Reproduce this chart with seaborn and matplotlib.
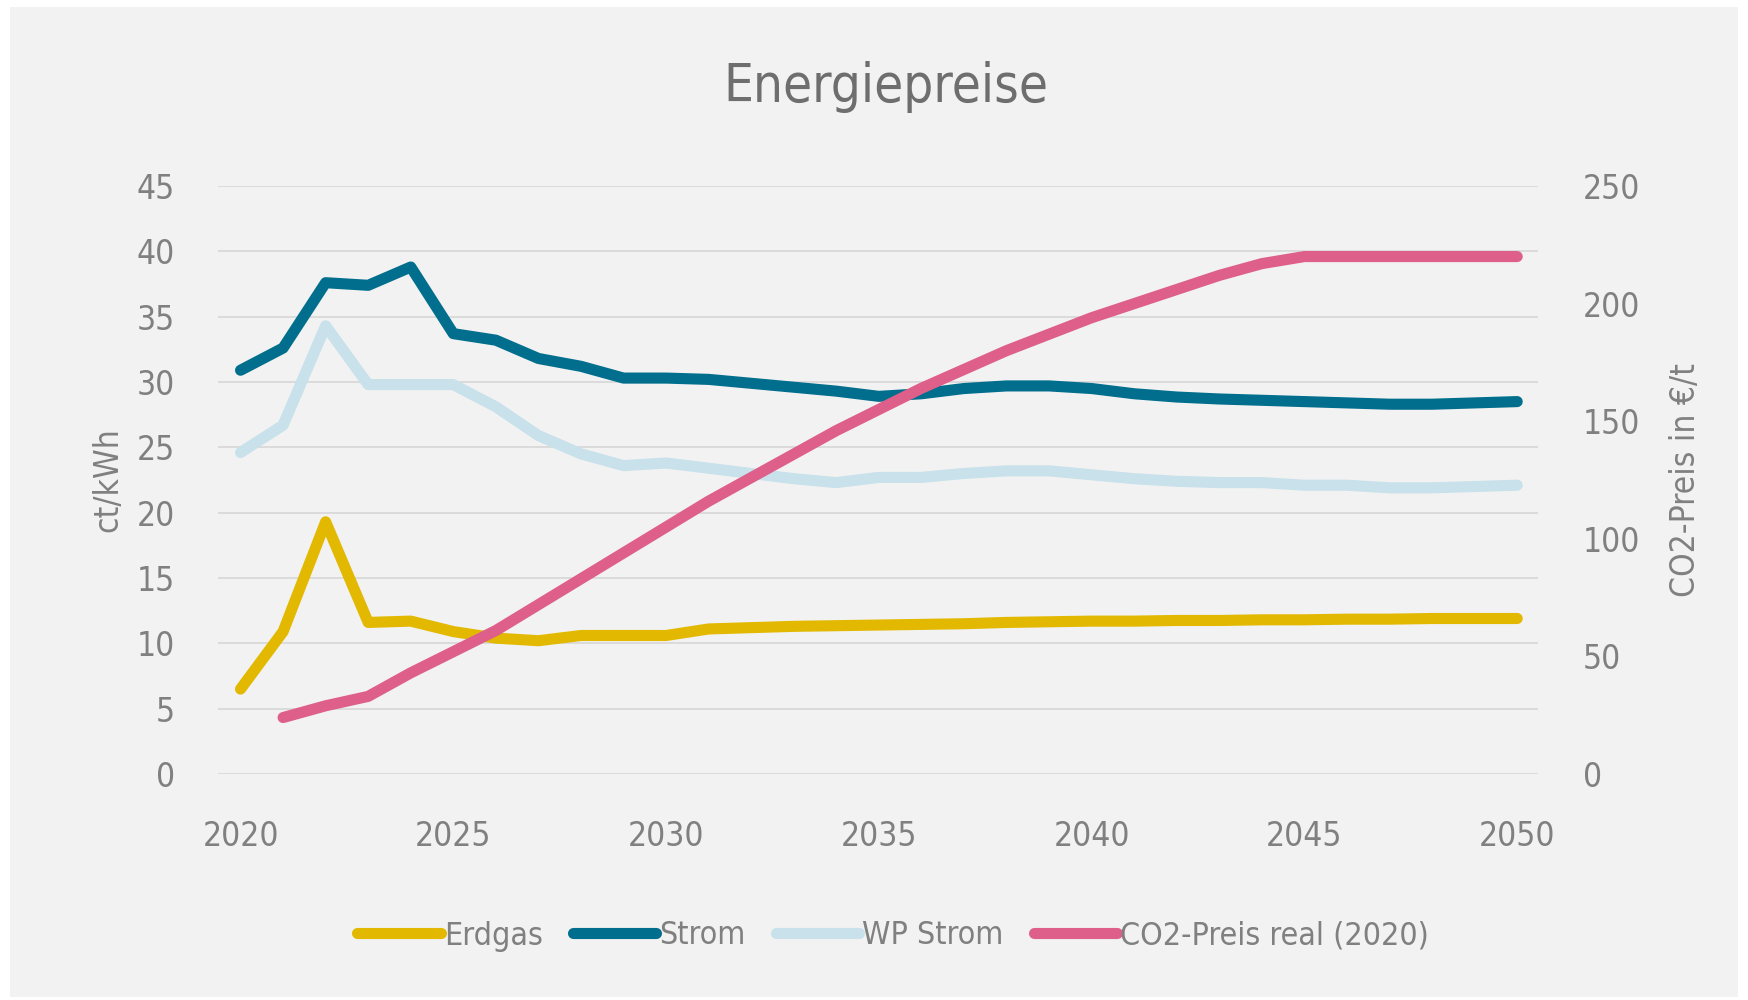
import pandas as pd
import seaborn as sns
import matplotlib.pyplot as plt
from matplotlib.lines import Line2D
from matplotlib.patches import Rectangle

# Werte
years = list(range(2020, 2051))
erdgas = [6.5, 10.9, 19.3, 11.6, 11.7, 10.9, 10.4, 10.2, 10.6, 10.6, 10.6,
          11.1, 11.2, 11.3, 11.35, 11.4, 11.45, 11.5, 11.6, 11.65, 11.7,
          11.7, 11.75, 11.75, 11.8, 11.8, 11.85, 11.85, 11.9, 11.9, 11.9]
strom = [30.9, 32.6, 37.6, 37.4, 38.8, 33.7, 33.2, 31.8, 31.2, 30.3, 30.3,
         30.2, 29.9, 29.6, 29.3, 28.9, 29.1, 29.5, 29.7, 29.7, 29.5,
         29.1, 28.85, 28.7, 28.6, 28.5, 28.4, 28.3, 28.3, 28.4, 28.5]
wp_strom = [24.6, 26.7, 34.3, 29.8, 29.8, 29.8, 28.1, 25.9, 24.5, 23.6, 23.8,
            23.4, 23.0, 22.6, 22.3, 22.7, 22.7, 23.0, 23.2, 23.2, 22.9,
            22.6, 22.4, 22.3, 22.3, 22.1, 22.1, 21.9, 21.9, 22.0, 22.1]
co2_years = years[1:]
co2_preis = [24, 29, 33, 43, 52, 61, 72, 83, 94, 105,
             116, 126, 136, 146, 155, 164, 172, 180, 187, 194,
             200, 206, 212, 217, 220, 220, 220, 220, 220, 220]

serien = ['Erdgas', 'Strom', 'WP Strom']
farben = {'Erdgas': '#E2B900', 'Strom': '#006E8C', 'WP Strom': '#C8E1EA'}
co2_name = 'CO2-Preis real (2020)'
co2_farbe = '#DD5F8A'

x_ticks = [2020, 2025, 2030, 2035, 2040, 2045, 2050]
y_ticks_links = [0, 5, 10, 15, 20, 25, 30, 35, 40, 45]
y_ticks_rechts = [0, 50, 100, 150, 200, 250]

df = pd.DataFrame({'Jahr': years * 3,
                   'Wert': erdgas + strom + wp_strom,
                   'Serie': [s for s in serien for _ in years]})
df_co2 = pd.DataFrame({'Jahr': co2_years, 'Preis': co2_preis})

# schmale Schrift (DejaVu Sans Condensed)
plt.rcParams['font.family'] = ['DejaVu Sans']
plt.rcParams['font.stretch'] = 'condensed'
grau = '#808080'

fig = plt.figure(figsize=(17.48, 10), dpi=100, facecolor='white')
fig.patches.append(Rectangle((0.006, 0.003), 0.988, 0.99, transform=fig.transFigure,
                             facecolor='#F2F2F2', edgecolor='none', zorder=-10))
ax = fig.add_axes([0.1247, 0.226, 0.7552, 0.588])
ax.set_facecolor('none')

sns.lineplot(data=df, x='Jahr', y='Wert', hue='Serie', palette=farben,
             linewidth=8, legend=False, ax=ax)
for l in ax.lines:
    l.set_solid_capstyle('round')
    l.set_solid_joinstyle('round')

ax2 = ax.twinx()
sns.lineplot(data=df_co2, x='Jahr', y='Preis', color=co2_farbe, linewidth=8, ax=ax2)
for l in ax2.lines:
    l.set_solid_capstyle('round')
    l.set_solid_joinstyle('round')

ax.set_xlim(2019.47, 2050.49)
ax.set_ylim(0, 45)
ax2.set_ylim(0, 250)
ax.set_xticks(x_ticks)
ax.set_yticks(y_ticks_links)
ax2.set_yticks(y_ticks_rechts)
ax.grid(axis='y', color='#D9D9D9', linewidth=1.3)
ax.set_axisbelow(True)
for a in (ax, ax2):
    for s in a.spines.values():
        s.set_visible(False)
ax.tick_params(axis='x', length=0, pad=33, labelsize=24, labelcolor=grau)
ax.tick_params(axis='y', length=0, pad=31, labelsize=24, labelcolor=grau)
ax2.tick_params(axis='y', length=0, pad=32, labelsize=24, labelcolor=grau)

ax.set_xlabel('')
ax.set_ylabel('ct/kWh', fontsize=24, color=grau, labelpad=9)
ax2.set_ylabel('CO2-Preis in €/t', fontsize=24, color=grau, labelpad=21)

fig.suptitle('Energiepreise', x=0.507, y=0.913, va='center', fontsize=38,
             color='#6E6E6E')

handles = [Line2D([], [], color=farben[s], linewidth=8, solid_capstyle='round') for s in serien]
handles.append(Line2D([], [], color=co2_farbe, linewidth=8, solid_capstyle='round'))
fig.legend(handles, serien + [co2_name], loc='center', bbox_to_anchor=(0.511, 0.064),
           ncol=4, frameon=False, fontsize=23, labelcolor=grau, handlelength=2.6,
           handletextpad=0.1, columnspacing=0.95)

fig.savefig('out.png', dpi=100, facecolor=fig.get_facecolor())
